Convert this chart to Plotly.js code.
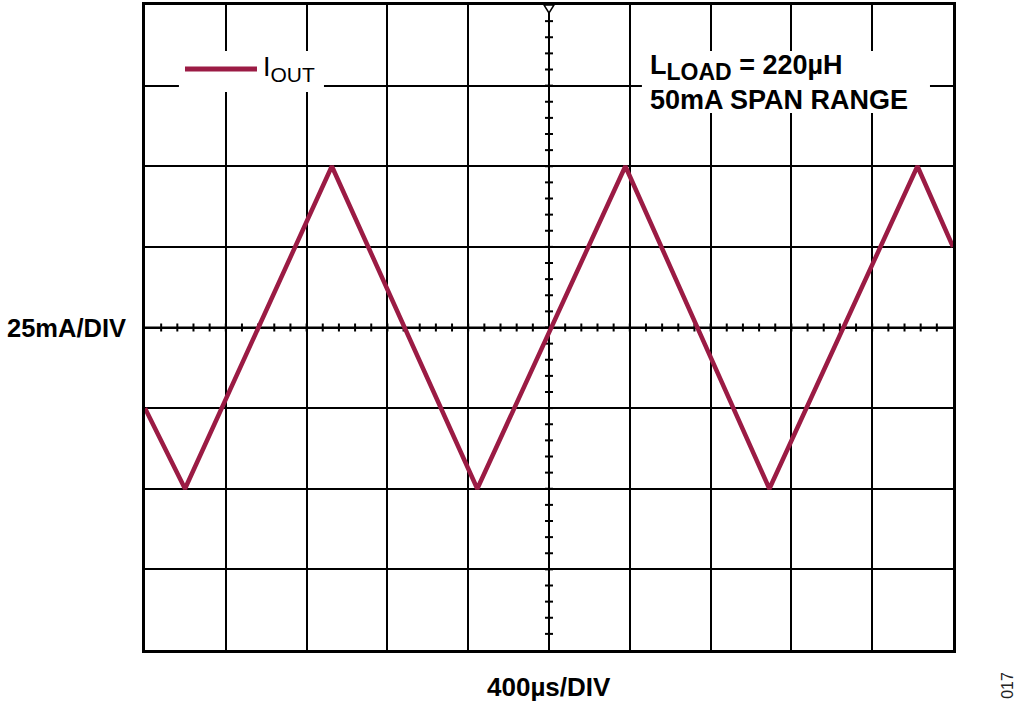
<!DOCTYPE html>
<html>
<head>
<meta charset="utf-8">
<script src="https://cdn.plot.ly/plotly-3.0.1.min.js"></script>
<style>
  html, body { margin: 0; padding: 0; background: #ffffff; }
  #chart { width: 1024px; height: 705px; }
</style>
</head>
<body>
<div id="chart"></div>
<script>
// ---- data (time in µs, current in mA) ----
const timeUs = [0, 198, 925, 1645, 2378, 3091, 3824, 4000];
const ioutMA = [-25, -50, 50, -50, 50, -50, 50, 25];

// ---- scope graticule settings ----
const xRange = [0, 4000];      // 10 div × 400 µs
const yRange = [-100, 100];    // 8 div × 25 mA
const xDiv = 400;
const yDiv = 25;
const xCenter = 2000;
const yCenter = 0;
const minorX = 80;             // 5 minor ticks per division
const minorY = 5;

const traceColor = '#9B1B44';
const font = 'Arial, "Liberation Sans", sans-serif';

const shapes = [];

// center crosshair lines
shapes.push({type: 'line', xref: 'x', yref: 'y', x0: xRange[0], x1: xRange[1], y0: yCenter, y1: yCenter,
             line: {color: '#000', width: 2}, layer: 'between'});
shapes.push({type: 'line', xref: 'x', yref: 'y', x0: xCenter, x1: xCenter, y0: yRange[0], y1: yRange[1],
             line: {color: '#000', width: 2}, layer: 'between'});

// minor ticks on the crosshair
for (let t = xRange[0] + minorX; t < xRange[1]; t += minorX) {
  shapes.push({type: 'line', xref: 'x', yref: 'y', ysizemode: 'pixel', yanchor: yCenter,
               x0: t, x1: t, y0: -4, y1: 4, line: {color: '#000', width: 2}, layer: 'between'});
}
for (let v = yRange[0] + minorY; v < yRange[1]; v += minorY) {
  shapes.push({type: 'line', xref: 'x', yref: 'y', xsizemode: 'pixel', xanchor: xCenter,
               x0: -4, x1: 4, y0: v, y1: v, line: {color: '#000', width: 2}, layer: 'between'});
}

// trigger marker at top of the center line
shapes.push({type: 'path', xref: 'x', yref: 'y', xsizemode: 'pixel', ysizemode: 'pixel',
             xanchor: xCenter, yanchor: yRange[1], path: 'M-5,0L5,0L0,-8Z',
             fillcolor: '#ffffff', line: {color: '#000', width: 1.5}, layer: 'above'});

// white boxes behind legend and note
shapes.push({type: 'rect', xref: 'paper', yref: 'paper', x0: 0.042, x1: 0.2215, y0: 0.865, y1: 0.9287,
             fillcolor: '#ffffff', line: {width: 0}, layer: 'above'});
shapes.push({type: 'rect', xref: 'paper', yref: 'paper', x0: 0.615, x1: 0.9715, y0: 0.8326, y1: 0.9287,
             fillcolor: '#ffffff', line: {width: 0}, layer: 'above'});
// legend line sample
shapes.push({type: 'line', xref: 'paper', yref: 'paper', x0: 0.0495, x1: 0.1386, y0: 0.9008, y1: 0.9008,
             line: {color: traceColor, width: 5}, layer: 'above'});

const annotations = [
  {xref: 'paper', yref: 'paper', x: 0.1436, y: 0.9008, xanchor: 'left', yanchor: 'middle',
   text: 'I<sub><span style="font-size:21px">OUT</span></sub>', showarrow: false,
   font: {family: font, size: 27, color: '#000'}},
  {xref: 'paper', yref: 'paper', x: 0.623, y: 0.8806, xanchor: 'left', yanchor: 'middle', align: 'left',
   text: '<b>L<sub><span style="font-size:23px">LOAD</span></sub> = 220µH<br>50mA SPAN RANGE</b>', showarrow: false,
   font: {family: font, size: 27, color: '#000'}},
  {xref: 'paper', yref: 'paper', x: -0.021, y: 0.5, xanchor: 'right', yanchor: 'middle',
   text: '<b>25mA/DIV</b>', showarrow: false, font: {family: font, size: 25.5, color: '#000'}},
  {xref: 'paper', yref: 'paper', x: 0.5, y: -0.057, xanchor: 'center', yanchor: 'middle',
   text: '<b>400µs/DIV</b>', showarrow: false, font: {family: font, size: 26, color: '#000'}},
  {xref: 'paper', yref: 'paper', x: 1.068, y: -0.054, xanchor: 'center', yanchor: 'middle', textangle: -90,
   text: '017', showarrow: false, font: {family: font, size: 16, color: '#222'}}
];

const trace = {
  x: timeUs, y: ioutMA, type: 'scatter', mode: 'lines', name: 'I<sub>OUT</sub>',
  line: {color: traceColor, width: 4.5}, showlegend: false, hoverinfo: 'skip'
};

const layout = {
  width: 1024, height: 705,
  margin: {l: 145, r: 71, t: 5, b: 55},
  paper_bgcolor: '#ffffff', plot_bgcolor: '#ffffff',
  showlegend: false,
  xaxis: {range: xRange, dtick: xDiv, tick0: 0, showgrid: true, gridcolor: '#000', gridwidth: 2,
          zeroline: false, showticklabels: false, ticks: '', showline: true, mirror: true,
          linecolor: '#000', linewidth: 3, fixedrange: true},
  yaxis: {range: yRange, dtick: yDiv, tick0: 0, showgrid: true, gridcolor: '#000', gridwidth: 2,
          zeroline: false, showticklabels: false, ticks: '', showline: true, mirror: true,
          linecolor: '#000', linewidth: 3, fixedrange: true},
  shapes: shapes,
  annotations: annotations
};

Plotly.newPlot('chart', [trace], layout, {displayModeBar: false, staticPlot: true});
</script>
</body>
</html>
